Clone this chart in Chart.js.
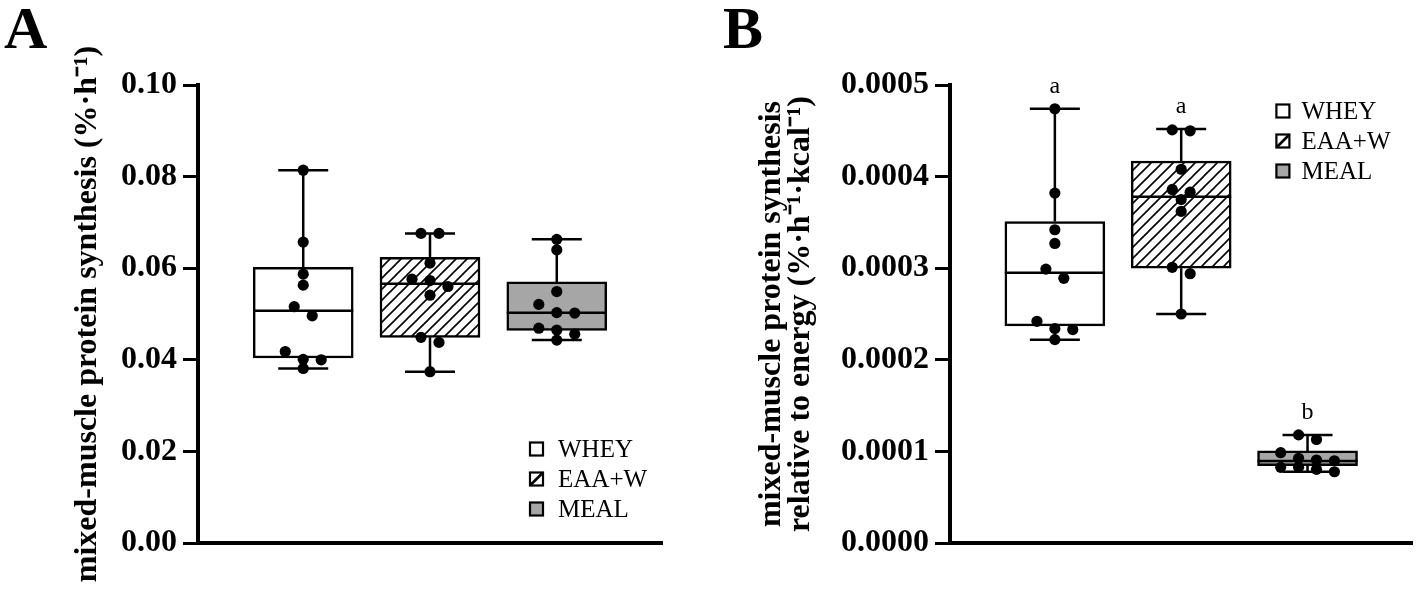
<!DOCTYPE html>
<html><head><meta charset="utf-8">
<script src="https://cdn.jsdelivr.net/npm/chart.js@4.4.1/dist/chart.umd.min.js"></script>
<style>
html,body{margin:0;padding:0;background:#fff;}
#wrap{position:relative;width:1418px;height:596px;overflow:hidden;background:#fff;}
.cv{position:absolute;top:0;width:709px;height:596px;}
.panel{position:absolute;font-family:'Liberation Serif','Times New Roman',serif;font-weight:bold;font-size:60px;line-height:1;color:#000;}
</style></head><body>
<div id="wrap">
<div class="cv" style="left:0"><canvas id="cA" width="709" height="596"></canvas></div>
<div class="cv" style="left:709px"><canvas id="cB" width="709" height="596"></canvas></div>
<div class="panel" style="left:4px;top:-2px">A</div>
<div class="panel" style="left:723px;top:-2px">B</div>
</div>
<script>
// ---------- data ----------
const groups = ['WHEY', 'EAA+W', 'MEAL'];

// Panel A: mixed-muscle protein synthesis (%·h-1)
const wheyA = [0.0814, 0.0657, 0.0587, 0.0563, 0.0516, 0.0496, 0.0418, 0.0401, 0.0400, 0.0381];
const eaaA  = [0.0676, 0.0676, 0.0611, 0.0576, 0.0573, 0.0560, 0.0541, 0.0449, 0.0438, 0.0374];
const mealA = [0.0663, 0.0640, 0.0549, 0.0521, 0.0503, 0.0502, 0.0469, 0.0465, 0.0456, 0.0443];
const minA = [0.0381, 0.0374, 0.0443];
const q1A  = [0.0404, 0.0449, 0.0464];
const medA = [0.0507, 0.0566, 0.0503];
const q3A  = [0.0602, 0.0624, 0.0570];
const maxA = [0.0814, 0.0676, 0.0663];
const yTicksA = ['0.00', '0.02', '0.04', '0.06', '0.08', '0.10'];

// Panel B: relative to energy (%·h-1·kcal-1)
const wheyB = [0.000474, 0.000382, 0.000342, 0.000327, 0.000299, 0.000289, 0.000242, 0.000234, 0.000233, 0.000222];
const eaaB  = [0.000451, 0.000450, 0.000408, 0.000386, 0.000383, 0.000375, 0.000362, 0.000301, 0.000294, 0.000250];
const mealB = [0.000118, 0.000113, 0.0000986, 0.0000925, 0.0000906, 0.0000898, 0.0000826, 0.0000826, 0.0000804, 0.0000778];
const minB = [0.000222, 0.000250, 0.0000778];
const q1B  = [0.000237, 0.000300, 0.0000845];
const medB = [0.000295, 0.000378, 0.0000895];
const q3B  = [0.000351, 0.000417, 0.0001005];
const maxB = [0.000474, 0.000452, 0.000118];
const lettersB = ['a', 'a', 'b'];
const yTicksB = ['0.0000', '0.0001', '0.0002', '0.0003', '0.0004', '0.0005'];

// ---------- styling helpers ----------
const SERIF = "'Liberation Serif', 'Times New Roman', serif";
const GRAY = '#a6a6a6';

function makeHatch() {
  const s = 11;
  const c = document.createElement('canvas');
  c.width = s; c.height = s;
  const g = c.getContext('2d');
  g.fillStyle = '#fff'; g.fillRect(0, 0, s, s);
  g.strokeStyle = '#000'; g.lineWidth = 1.6;
  g.beginPath();
  g.moveTo(-1, s + 1); g.lineTo(s + 1, -1);
  g.moveTo(-1, 1); g.lineTo(1, -1);
  g.moveTo(s - 1, s + 1); g.lineTo(s + 1, s - 1);
  g.stroke();
  return g.createPattern(c, 'repeat');
}
const hatch = makeHatch();
const fills = ['#ffffff', hatch, GRAY];

// simple row-based beeswarm (rows of near-equal values spread side by side)
function swarm(vals, gi, yMax) {
  const thr = yMax * 10 / 458;
  const step = 18 / 127;
  const sorted = [...vals].sort((a, b) => b - a);
  const rows = [];
  for (const v of sorted) {
    const r = rows[rows.length - 1];
    if (r && r[0] - v <= thr) r.push(v); else rows.push([v]);
  }
  const pts = [];
  rows.forEach(r => r.forEach((v, j) => pts.push({x: gi + (j - (r.length - 1) / 2) * step, y: v})));
  return pts;
}

// ---------- plugins ----------
const boxPlugin = {
  id: 'boxWhiskers',
  afterDatasetDraw(chart, args) {
    const ds = chart.data.datasets[args.index];
    if (!ds.stats) return;
    const ctx = chart.ctx, y = chart.scales.y, st = ds.stats;
    ctx.save();
    ctx.strokeStyle = '#000'; ctx.lineWidth = 2.5; ctx.lineCap = 'butt';
    args.meta.data.forEach((bar, i) => {
      const p = bar.getProps(['x', 'width'], true);
      const x = p.x, hw = p.width / 2, cw = p.width / 4;
      const yMin = y.getPixelForValue(st.min[i]);
      const yQ1 = y.getPixelForValue(st.q1[i]);
      const yMed = y.getPixelForValue(st.med[i]);
      const yQ3 = y.getPixelForValue(st.q3[i]);
      const yMax = y.getPixelForValue(st.max[i]);
      ctx.beginPath();
      ctx.moveTo(x - hw, yMed); ctx.lineTo(x + hw, yMed);
      ctx.moveTo(x, yQ3); ctx.lineTo(x, yMax);
      ctx.moveTo(x - cw, yMax); ctx.lineTo(x + cw, yMax);
      ctx.moveTo(x, yQ1); ctx.lineTo(x, yMin);
      ctx.moveTo(x - cw, yMin); ctx.lineTo(x + cw, yMin);
      ctx.stroke();
    });
    ctx.restore();
  }
};

const legendPlugin = {
  id: 'boxLegend',
  afterDraw(chart, args, opts) {
    if (!opts || !opts.items) return;
    const ctx = chart.ctx, ca = chart.chartArea;
    const x0 = ca.right - opts.fromRight;
    const y0 = opts.fromTop != null ? ca.top + opts.fromTop : ca.bottom - opts.fromBottom;
    ctx.save();
    ctx.font = '25px ' + SERIF;
    ctx.textBaseline = 'middle';
    ctx.textAlign = 'left';
    opts.items.forEach((lab, i) => {
      const cy = y0 + i * opts.rowGap;
      const s = 13;
      ctx.fillStyle = i === 2 ? GRAY : '#fff';
      ctx.fillRect(x0, cy - s / 2, s, s);
      ctx.strokeStyle = '#000'; ctx.lineWidth = 2.2;
      if (i === 1) {
        ctx.beginPath();
        ctx.moveTo(x0, cy + s / 2); ctx.lineTo(x0 + s, cy - s / 2);
        ctx.lineWidth = 2.6; ctx.stroke(); ctx.lineWidth = 2.2;
      }
      ctx.strokeRect(x0, cy - s / 2, s, s);
      ctx.fillStyle = '#000';
      ctx.fillText(lab, x0 + opts.textGap, cy + 1);
    });
    ctx.restore();
  }
};

const letterPlugin = {
  id: 'sigLetters',
  afterDatasetsDraw(chart, args, opts) {
    if (!opts || !opts.letters) return;
    const ctx = chart.ctx, x = chart.scales.x, y = chart.scales.y;
    ctx.save();
    ctx.font = '24px ' + SERIF;
    ctx.fillStyle = '#000';
    ctx.textAlign = 'center';
    ctx.textBaseline = 'alphabetic';
    opts.letters.forEach((t, i) => {
      ctx.fillText(t, x.getPixelForValue(i), y.getPixelForValue(opts.tops[i]) - 16);
    });
    ctx.restore();
  }
};

// ---------- chart builder ----------
function build(id, cfg) {
  const datasets = [
    {
      type: 'scatter',
      order: 1,
      data: [].concat(...cfg.points.map((vals, gi) => swarm(vals, gi, cfg.yMax))),
      pointRadius: 5.6,
      pointHoverRadius: 5.6,
      pointBackgroundColor: '#000',
      pointBorderWidth: 0,
      showLine: false
    },
    {
      type: 'bar',
      order: 2,
      data: groups.map((g, i) => ({x: i, y: [cfg.q1[i], cfg.q3[i]]})),
      stats: {min: cfg.min, q1: cfg.q1, med: cfg.med, q3: cfg.q3, max: cfg.max},
      backgroundColor: fills,
      borderColor: '#000',
      borderWidth: 2.5,
      borderSkipped: false,
      barThickness: 100
    }
  ];
  return new Chart(document.getElementById(id), {
    type: 'scatter',
    data: {datasets},
    options: {
      responsive: false,
      animation: false,
      devicePixelRatio: 1,
      layout: {padding: cfg.padding},
      plugins: {
        legend: {display: false},
        tooltip: {enabled: false},
        boxLegend: cfg.legend,
        sigLetters: cfg.letters || {}
      },
      scales: {
        x: {
          type: 'linear', min: -0.83, max: 2.83, offset: false,
          ticks: {display: false},
          grid: {display: false},
          border: {display: true, width: 4, color: '#000'},
          afterFit(s) { s.height = 0; }
        },
        y: {
          type: 'linear', min: 0, max: cfg.yMax,
          ticks: {
            stepSize: cfg.step,
            callback: (v, i) => cfg.tickLabels[i],
            font: {family: SERIF, size: 32, weight: 'bold'},
            color: '#000', padding: 6
          },
          grid: {drawOnChartArea: false, tickLength: 15, lineWidth: 3, color: '#000'},
          border: {display: true, width: 4, color: '#000'},
          title: {
            display: true, text: cfg.title, color: '#000',
            font: {family: SERIF, size: 32, weight: 'bold', lineHeight: 0.88},
            padding: {top: 0, bottom: 0}
          },
          afterFit(s) { s.width = cfg.axisWidth; }
        }
      }
    },
    plugins: [boxPlugin, legendPlugin, letterPlugin]
  });
}

build('cA', {
  points: [wheyA, eaaA, mealA],
  min: minA, q1: q1A, med: medA, q3: q3A, max: maxA,
  yMax: 0.1, step: 0.02, tickLabels: yTicksA,
  title: 'mixed-muscle protein synthesis (%·h\u207B\u00B9)',
  padding: {left: 74, right: 47, top: 85, bottom: 53},
  axisWidth: 124,
  legend: {items: groups, fromRight: 132, fromBottom: 94, rowGap: 30, textGap: 28}
});

build('cB', {
  points: [wheyB, eaaB, mealB],
  min: minB, q1: q1B, med: medB, q3: q3B, max: maxB,
  yMax: 0.0005, step: 0.0001, tickLabels: yTicksB,
  title: ['mixed-muscle protein synthesis', 'relative to energy (%·h\u207B\u00B9·kcal\u207B\u00B9)'],
  padding: {left: 49, right: 2, top: 85, bottom: 53},
  axisWidth: 192,
  legend: {items: groups, fromRight: 136, fromTop: 26, rowGap: 30, textGap: 25},
  letters: {letters: lettersB, tops: maxB}
});
</script>
</body></html>
